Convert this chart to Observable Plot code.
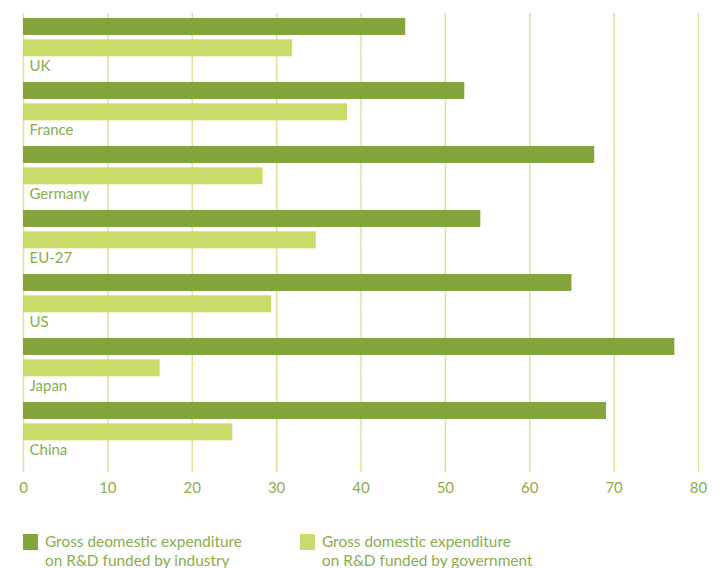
<!DOCTYPE html>
<html><head><meta charset="utf-8">
<script src="https://cdn.jsdelivr.net/npm/d3@7"></script>
<script src="https://cdn.jsdelivr.net/npm/@observablehq/plot@0.6"></script>
<style>
body{margin:0;background:#fff;font-family:Lato,sans-serif;}
#legend{position:relative;height:68px;width:721px;}
.sw{position:absolute;width:15px;height:16px;top:34px;}
.lbl{position:absolute;top:32px;font-size:15.4px;line-height:19px;color:#8aad4f;white-space:nowrap;}
</style></head><body>
<div id="chart"></div><div id="legend"></div>
<script>
const countries = ["UK","France","Germany","EU-27","US","Japan","China"];
const industry = [45.3, 52.3, 67.7, 54.2, 65.0, 77.2, 69.1];
const government = [31.9, 38.4, 28.4, 34.7, 29.4, 16.2, 24.8];
const seriesKeys = ["industry","government"];
const seriesLabels = [["Gross deomestic expenditure","on R&D funded by industry"],["Gross domestic expenditure","on R&D funded by government"]];
const seriesColors = ["#84a43c","#c9dc6a"];
const xTicks = [0,10,20,30,40,50,60,70,80];

const rows = countries.flatMap((c,i)=>[
  {country:c, series:"industry", value:industry[i]},
  {country:c, series:"government", value:government[i]}
]);
const yDomain = countries.flatMap(c=>[c+"|industry", c+"|government", c+"|label"]);
const textColor = "#8aad4f";

const chart = Plot.plot({
  width:721, height:500,
  marginTop:13, marginBottom:28, marginLeft:23, marginRight:23,
  style:{fontFamily:"Lato, sans-serif", fontSize:"15px", color:textColor, background:"#fff"},
  x:{domain:[0,80], ticks:xTicks, tickSize:0, tickPadding:10, label:null},
  y:{domain:yDomain, range:[15.8, 463.8], padding:0, round:false, axis:null},
  color:{domain:seriesKeys, range:seriesColors},
  marks:[
    Plot.ruleX(xTicks, {x:d=>d, stroke:"#d8e597", strokeWidth:1.5}),
    Plot.barX(rows, {x:"value", y:d=>d.country+"|"+d.series, fill:"series", insetTop:2.17, insetBottom:2.17}),
    Plot.text(countries, {x:()=>0, y:d=>d+"|label", text:d=>d, dx:6, dy:-3.5, textAnchor:"start", fill:textColor, fontSize:15})
  ]
});
document.getElementById("chart").appendChild(chart);

const legend = document.getElementById("legend");
const legendX = [23, 300];
seriesKeys.forEach((k,i)=>{
  const sw = document.createElement("div");
  sw.className="sw"; sw.style.left=legendX[i]+"px"; sw.style.background=seriesColors[i];
  legend.appendChild(sw);
  const lb = document.createElement("div");
  lb.className="lbl"; lb.style.left=(legendX[i]+22)+"px";
  lb.innerHTML = seriesLabels[i].map(s=>s.replace(/&/g,"&amp;")).join("<br>");
  legend.appendChild(lb);
});
</script>
</body></html>
